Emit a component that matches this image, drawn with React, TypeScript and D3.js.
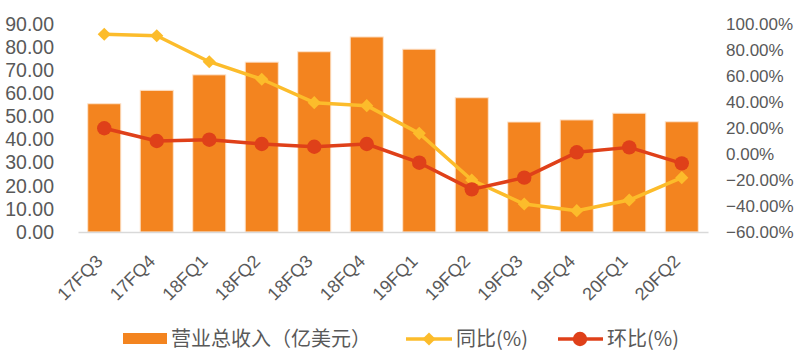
import React, { useEffect, useRef } from 'react';
import * as d3 from 'd3';

const quarters = ['17FQ3', '17FQ4', '18FQ1', '18FQ2', '18FQ3', '18FQ4', '19FQ1', '19FQ2', '19FQ3', '19FQ4', '20FQ1', '20FQ2'];
// 营业总收入（亿美元）
const revenue = [55.5, 61.3, 68.0, 73.5, 78.0, 84.4, 79.1, 58.1, 47.6, 48.5, 51.4, 47.7];
// 同比(%)
const yoy = [92.1, 91.0, 71.0, 57.5, 39.5, 37.2, 15.9, -20.0, -38.5, -43.6, -35.4, -18.2];
// 环比(%)
const qoq = [19.8, 10.0, 11.0, 7.7, 5.6, 7.7, -6.7, -27.2, -18.2, 1.3, 5.1, -7.2];
const leftTicks = [0, 10, 20, 30, 40, 50, 60, 70, 80, 90];
const rightTicks = [-60, -40, -20, 0, 20, 40, 60, 80, 100];

const BAR = '#F3841F';
const YEL = '#FCBC2B';
const RED = '#DF4019';
const TXT = '#595959';
const FONT = '"Liberation Sans", Arial, "Noto Sans CJK SC", sans-serif';
const CJK = '"Noto Sans CJK SC", sans-serif';

const App: React.FC = () => {
  const svgRef = useRef<SVGSVGElement>(null);
  useEffect(() => {
    const W = 800, H = 359;
    const plot = { left: 78, right: 708, top: 24, bottom: 232 };
    const svg = d3.select(svgRef.current).attr('width', W).attr('height', H);
    svg.selectAll('*').remove();
    svg.style('font-family', FONT);

    const x = d3.scaleBand<string>()
      .domain(quarters)
      .range([plot.left, plot.right])
      .paddingInner(0.37)
      .paddingOuter(0.185);
    const yL = d3.scaleLinear().domain([0, 90]).range([plot.bottom, plot.top]);
    const yR = d3.scaleLinear().domain([-60, 100]).range([plot.bottom, plot.top]);
    const cx = (d: string) => x(d)! + x.bandwidth() / 2;

    // bars
    svg.append('g').selectAll('rect')
      .data(revenue)
      .enter().append('rect')
      .attr('x', (_, i) => x(quarters[i])!)
      .attr('y', d => yL(d))
      .attr('width', x.bandwidth())
      .attr('height', d => plot.bottom - yL(d))
      .attr('fill', BAR)
      .attr('stroke', '#FDE3CC')
      .attr('stroke-width', 1);

    // x axis
    const xAxis = svg.append('g')
      .attr('transform', `translate(0,${plot.bottom})`)
      .call(d3.axisBottom(x).tickSize(0).tickSizeOuter(0));
    xAxis.select('.domain').attr('stroke', '#D9D9D9').attr('stroke-width', 1.5);
    xAxis.selectAll('text')
      .attr('fill', TXT)
      .attr('font-size', 18)
      .attr('text-anchor', 'end')
      .attr('y', 0)
      .attr('dy', '0.35em')
      .attr('transform', 'translate(-5,26) rotate(-45)');

    // left axis
    const lAxis = svg.append('g')
      .attr('transform', 'translate(54,0)')
      .call(d3.axisLeft(yL).tickValues(leftTicks).tickFormat(d3.format('.2f') as any).tickSize(0).tickPadding(0));
    lAxis.select('.domain').remove();
    lAxis.selectAll('text').attr('fill', TXT).attr('font-size', 19.5);

    // right axis
    const rAxis = svg.append('g')
      .attr('transform', 'translate(726,0)')
      .call(d3.axisRight(yR).tickValues(rightTicks).tickFormat((d: any) => d3.format('.2f')(d) + '%').tickSize(0).tickPadding(0));
    rAxis.select('.domain').remove();
    rAxis.selectAll('text').attr('fill', TXT).attr('font-size', 17);

    // lines
    const line = d3.line<number>()
      .x((_, i) => cx(quarters[i]))
      .y(d => yR(d));

    svg.append('path').datum(yoy)
      .attr('fill', 'none').attr('stroke', YEL).attr('stroke-width', 3.5)
      .attr('stroke-linejoin', 'round').attr('d', line);
    svg.append('g').selectAll('path')
      .data(yoy)
      .enter().append('path')
      .attr('d', d3.symbol().type(d3.symbolDiamond2).size(110)() as string)
      .attr('transform', (d, i) => `translate(${cx(quarters[i])},${yR(d)})`)
      .attr('fill', YEL);

    svg.append('path').datum(qoq)
      .attr('fill', 'none').attr('stroke', RED).attr('stroke-width', 3.5)
      .attr('stroke-linejoin', 'round').attr('d', line);
    svg.append('g').selectAll('circle')
      .data(qoq)
      .enter().append('circle')
      .attr('cx', (_, i) => cx(quarters[i]))
      .attr('cy', d => yR(d))
      .attr('r', 7.2)
      .attr('fill', RED);

    // legend
    const lg = svg.append('g').attr('font-size', 20).attr('fill', TXT);
    lg.append('rect').attr('x', 123).attr('y', 333).attr('width', 44).attr('height', 11).attr('fill', BAR);
    lg.append('text').attr('x', 171).attr('y', 339).attr('dy', '0.35em')
      .style('font-family', CJK).text('营业总收入（亿美元）');

    lg.append('line').attr('x1', 406).attr('x2', 452).attr('y1', 339).attr('y2', 339)
      .attr('stroke', YEL).attr('stroke-width', 3.5);
    lg.append('path').attr('d', d3.symbol().type(d3.symbolDiamond2).size(110)() as string)
      .attr('transform', 'translate(429,339)').attr('fill', YEL);
    lg.append('text').attr('x', 456).attr('y', 339).attr('dy', '0.35em')
      .style('font-family', CJK).text('同比(%)');

    lg.append('line').attr('x1', 558).attr('x2', 603).attr('y1', 339).attr('y2', 339)
      .attr('stroke', RED).attr('stroke-width', 3.5);
    lg.append('circle').attr('cx', 580).attr('cy', 339).attr('r', 7.2).attr('fill', RED);
    lg.append('text').attr('x', 607).attr('y', 339).attr('dy', '0.35em')
      .style('font-family', CJK).text('环比(%)');
  }, []);

  return <svg ref={svgRef} style={{ position: 'absolute', left: 0, top: 0, background: '#fff' }}></svg>;
};

export default App;
